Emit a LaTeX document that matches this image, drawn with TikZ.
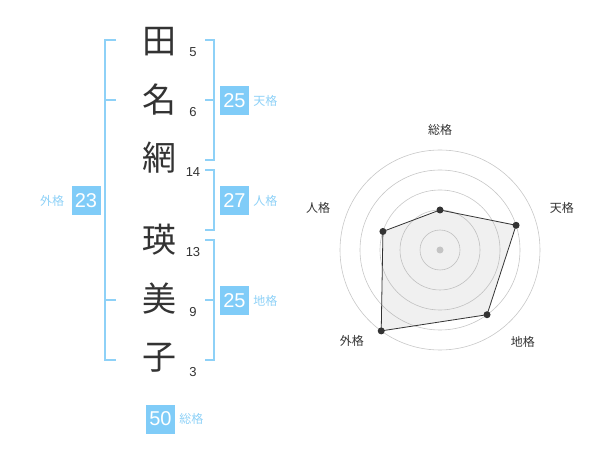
\documentclass[tikz,border=0pt]{standalone}
\usepackage{fontspec}
\setmainfont{Liberation Sans}
\newfontfamily\jpfont{Noto Sans CJK JP}
\usetikzlibrary{positioning}
\definecolor{kakublue}{HTML}{80CCF8}
\definecolor{linecol}{HTML}{8ED1F7}
\definecolor{inkgray}{HTML}{333333}
\begin{document}
\begin{tikzpicture}[x=1pt,y=-1pt,
    kanji/.style={text=inkgray,font=\jpfont\fontsize{34}{34}\selectfont},
    strokes/.style={text=inkgray,font=\fontsize{13}{13}\selectfont},
    kakubox/.style={fill=kakublue,text=white,minimum size=29pt,inner sep=0pt,font=\fontsize{20}{20}\selectfont},
    kakulabel/.style={text=linecol,font=\jpfont\fontsize{12}{12}\selectfont,inner sep=0pt},
    bracket/.style={draw=linecol,line width=1.8pt},
    ring/.style={draw=black!22,line width=0.6pt},
    radarlabel/.style={text=inkgray,font=\jpfont\fontsize{12}{12}\selectfont}]
    \useasboundingbox (0,0) rectangle (600,470);

    % name column
    \node[kanji] (c1) at (159,42) {田};
    \node[kanji] (c2) at (159,100) {名};
    \node[kanji] (c3) at (159,158) {網};
    \node[kanji] (c4) at (159,240) {瑛};
    \node[kanji] (c5) at (159,299) {美};
    \node[kanji] (c6) at (159,358) {子};

    \node[strokes] (s1) at (193,52) {5};
    \node[strokes] (s2) at (193,112) {6};
    \node[strokes] (s3) at (193,172) {14};
    \node[strokes] (s4) at (193,252) {13};
    \node[strokes] (s5) at (193,312) {9};
    \node[strokes] (s6) at (193,372) {3};

    % brackets
    \draw[bracket] (116,40) -- (105,40) -- (105,360) -- (116,360);
    \draw[bracket] (105,100) -- (116,100);
    \draw[bracket] (105,300) -- (116,300);
    \draw[bracket] (205,40) -- (214,40) -- (214,160) -- (205,160);
    \draw[bracket] (205,100) -- (214,100);
    \draw[bracket] (205,170) -- (214,170) -- (214,230) -- (205,230);
    \draw[bracket] (205,240) -- (214,240) -- (214,360) -- (205,360);
    \draw[bracket] (205,300) -- (214,300);

    \node[kakubox] (ten) at (234.5,100.5) {25};
    \node[kakulabel, right=4pt of ten] (tenl) {天格};
    \node[kakubox] (jin) at (234.5,200.5) {27};
    \node[kakulabel, right=4pt of jin] (jinl) {人格};
    \node[kakubox] (chi) at (234.5,300.5) {25};
    \node[kakulabel, right=4pt of chi] (chil) {地格};
    \node[kakubox] (gai) at (86,200.5) {23};
    \node[kakulabel, left=7pt of gai] (gail) {外格};
    \node[kakubox] (sou) at (160.5,419) {50};
    \node[kakulabel, right=4pt of sou] (soul) {総格};

    % radar
    \begin{scope}[shift={(440,250)}]
        \foreach \r in {20,40,...,100}
            \draw[ring] (0,0) circle (\r pt);
        \fill[black!20] (0,0) circle (3.5pt);
        \coordinate (psou) at (-90:40);
        \coordinate (pten) at (-18:80);
        \coordinate (pchi) at (54:80);
        \coordinate (pgai) at (126:100);
        \coordinate (pjin) at (198:60);
        \filldraw[fill=black!40,fill opacity=0.15,draw=inkgray,line width=0.8pt]
            (psou) -- (pten) -- (pchi) -- (pgai) -- (pjin) -- cycle;
        \foreach \p in {psou,pten,pchi,pgai,pjin}
            \fill[inkgray] (\p) circle (3.5pt);
        \node[radarlabel] (lsou) at (-90:120) {総格};
        \node[radarlabel] (lten) at (-19:129) {天格};
        \node[radarlabel] (lchi) at (48:124) {地格};
        \node[radarlabel] (lgai) at (134:127) {外格};
        \node[radarlabel] (ljin) at (199:129) {人格};
    \end{scope}
\end{tikzpicture}
\end{document}
